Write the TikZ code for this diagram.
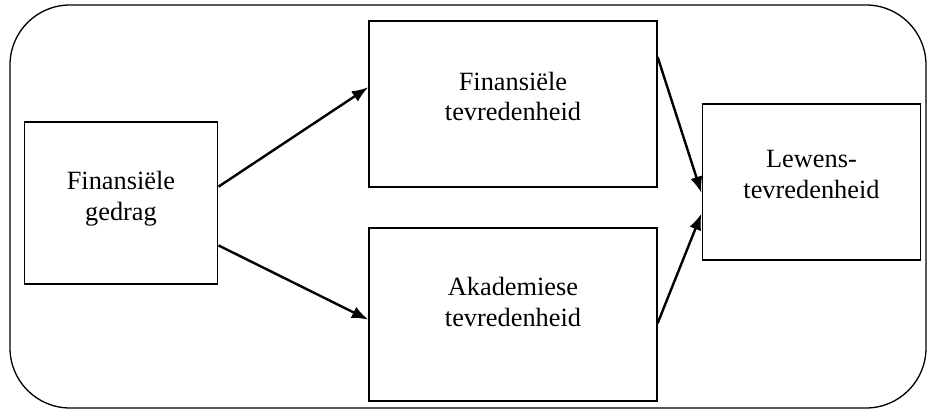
\documentclass[tikz,border=0pt]{standalone}
\usepackage{fontspec}
\setmainfont{Liberation Serif}
\usetikzlibrary{arrows, arrows.meta, calc, positioning}
\tikzset{
    blockBox/.style={rectangle, draw, line width=0.6pt, fill=white, inner sep=0pt},
    blockText/.style={align=center, font=\fontsize{12}{13.8}\selectfont, yshift=0.12cm},
    linkArrow/.style={->, >={Latex[length=7.5pt, width=5.6pt]}, line width=1.1pt},
}

\begin{document}
\begin{tikzpicture}[x=0.016cm, y=-0.016cm]
    \useasboundingbox (0,0) rectangle (928,410);

    % frame
    \draw[line width=0.6pt, rounded corners=0.96cm] (10,5) rectangle (926,408);

    % boxes
    \node[blockBox, minimum width=3.10cm, minimum height=2.59cm,
          label={[blockText, yshift=-0.05cm]center:Finansiële\\gedrag}] (gedrag) at (121,203) {};
    \node[blockBox, minimum width=4.61cm, minimum height=2.66cm,
          label={[blockText]center:Finansiële\\tevredenheid}] (fintev) at (513,104) {};
    \node[blockBox, minimum width=4.61cm, minimum height=2.77cm,
          label={[blockText, yshift=0.08cm]center:Akademiese\\tevredenheid}] (akatev) at (513,314.5) {};
    \node[blockBox, minimum width=3.50cm, minimum height=2.50cm,
          label={[blockText]center:Lewens-\\tevredenheid}] (lewtev) at (811.5,182) {};

    % arrows
    \draw[linkArrow] ($(gedrag.north east)!0.40!(gedrag.south east)$) -- ($(fintev.north west)!0.40!(fintev.south west)$);
    \draw[linkArrow] ($(gedrag.north east)!0.76!(gedrag.south east)$) -- ($(akatev.north west)!0.53!(akatev.south west)$);
    \draw[linkArrow] ($(fintev.north east)!0.22!(fintev.south east)$) -- ($(lewtev.north west)!0.57!(lewtev.south west)$);
    \draw[linkArrow] ($(akatev.north east)!0.55!(akatev.south east)$) -- ($(lewtev.north west)!0.70!(lewtev.south west)$);

\end{tikzpicture}
\end{document}
